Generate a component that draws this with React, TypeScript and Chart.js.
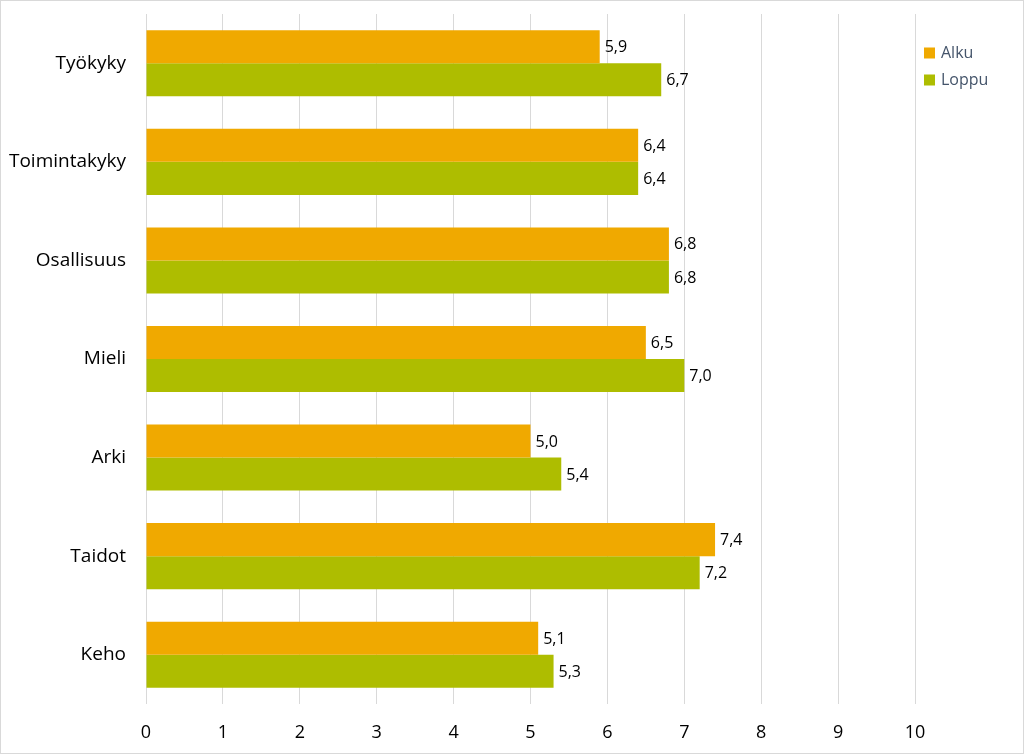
import React, { useEffect, useRef } from "react";
import { Chart, registerables } from "chart.js";

Chart.register(...registerables);

const categories = ["Työkyky", "Toimintakyky", "Osallisuus", "Mieli", "Arki", "Taidot", "Keho"];
const alku = [5.9, 6.4, 6.8, 6.5, 5.0, 7.4, 5.1];
const loppu = [6.7, 6.4, 6.8, 7.0, 5.4, 7.2, 5.3];
const xTicks = [0, 1, 2, 3, 4, 5, 6, 7, 8, 9, 10];
const seriesNames = ["Alku", "Loppu"];
const colors = ["#F0A900", "#AEBD00"];

const FONT = "'Open Sans', Lato, sans-serif";

const valueLabels = {
  id: "valueLabels",
  afterDatasetsDraw(chart: any) {
    const ctx = chart.ctx;
    ctx.save();
    ctx.font = `16px ${FONT}`;
    ctx.fillStyle = "#000000";
    ctx.textAlign = "left";
    ctx.textBaseline = "middle";
    chart.data.datasets.forEach((ds: any, i: number) => {
      const meta = chart.getDatasetMeta(i);
      meta.data.forEach((bar: any, j: number) => {
        const v = ds.data[j] as number;
        ctx.fillText(v.toFixed(1).replace(".", ","), bar.x + 5, bar.y + 1);
      });
    });
    ctx.restore();
  },
};

const customLegend = {
  id: "customLegend",
  afterDraw(chart: any) {
    const ctx = chart.ctx;
    ctx.save();
    ctx.font = `16px ${FONT}`;
    ctx.textAlign = "left";
    ctx.textBaseline = "middle";
    const x0 = chart.chartArea.right + 9;
    const y0 = 52;
    chart.data.datasets.forEach((ds: any, i: number) => {
      const y = y0 + i * 27;
      ctx.fillStyle = ds.backgroundColor;
      ctx.fillRect(x0, y - 5.5, 11, 11);
      ctx.fillStyle = "#44546A";
      ctx.fillText(ds.label, x0 + 17, y);
    });
    ctx.restore();
  },
};

export default function App() {
  const ref = useRef<HTMLCanvasElement>(null);
  useEffect(() => {
    document.body.style.margin = "0";
    const chart = new Chart(ref.current!, {
      type: "bar",
      data: {
        labels: categories,
        datasets: [
          { label: seriesNames[0], data: alku, backgroundColor: colors[0] },
          { label: seriesNames[1], data: loppu, backgroundColor: colors[1] },
        ],
      },
      options: {
        indexAxis: "y",
        animation: false,
        responsive: false,
        maintainAspectRatio: false,
        datasets: { bar: { categoryPercentage: 0.67, barPercentage: 1 } },
        layout: { padding: { top: 13, right: 108, bottom: 0, left: 0 } },
        plugins: { legend: { display: false }, tooltip: { enabled: false } },
        scales: {
          x: {
            min: 0,
            max: 10,
            afterBuildTicks: (s: any) => {
              s.ticks = xTicks.map((v) => ({ value: v }));
            },
            afterFit: (s: any) => {
              s.height = 49;
            },
            grid: { color: "#D9D9D9", drawTicks: false },
            border: { display: false },
            ticks: { font: { size: 18, family: FONT }, color: "#000000", padding: 18 },
          },
          y: {
            afterFit: (s: any) => {
              s.width = 145;
            },
            grid: { display: false, drawTicks: true, tickLength: 20 },
            border: { display: false },
            ticks: { font: { size: 19, family: FONT }, color: "#000000", padding: 0 },
          },
        },
      },
      plugins: [valueLabels, customLegend],
    });
    return () => chart.destroy();
  }, []);
  return (
    <div style={{ width: 1024, height: 754, boxSizing: "border-box", border: "1px solid #D9D9D9", background: "#fff" }}>
      <canvas ref={ref} width={1022} height={752} style={{ display: "block" }} />
    </div>
  );
}
